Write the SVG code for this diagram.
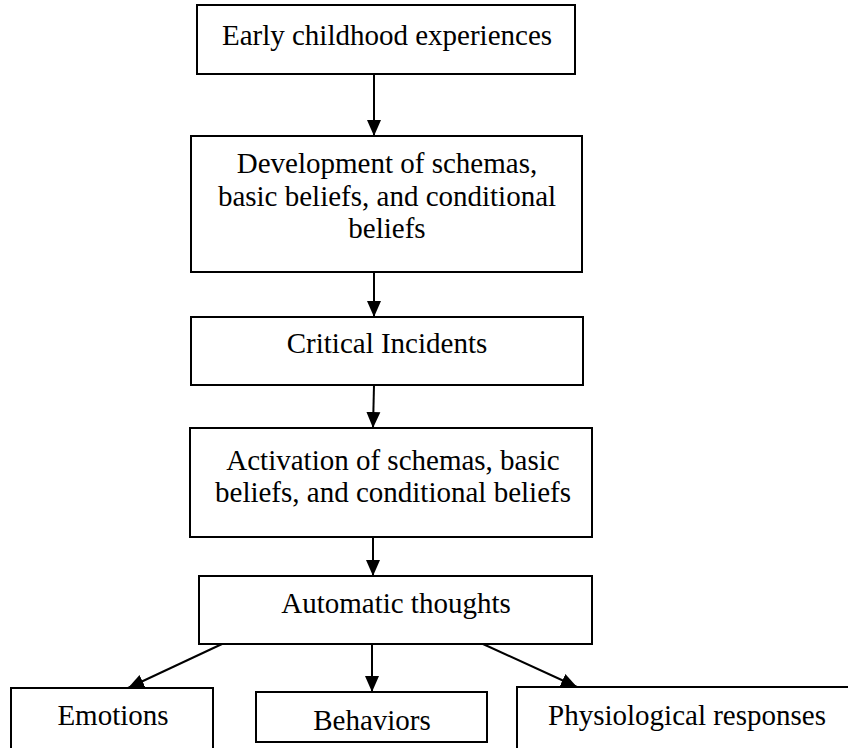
<svg xmlns="http://www.w3.org/2000/svg" width="848" height="748" viewBox="0 0 848 748">
  <style>
    .box { fill: #ffffff; stroke: #000000; stroke-width: 2; }
    .lbl { font-family: "Liberation Serif", "Times New Roman", serif; font-size: 29px; fill: #000000; text-anchor: middle; }
    .edge { stroke: #000000; stroke-width: 2; fill: none; marker-end: url(#head); }
  </style>
  <defs>
    <marker id="head" markerUnits="userSpaceOnUse" markerWidth="16" markerHeight="16" viewBox="0 0 16 16" refX="16" refY="8" orient="auto">
      <path d="M0,1 L16,8 L0,15 Z" fill="#000000"/>
    </marker>
  </defs>
  <rect width="848" height="748" fill="#ffffff"/>

  <g id="connectors">
    <line class="edge" x1="374" y1="74" x2="374" y2="136"/>
    <line class="edge" x1="374" y1="272" x2="374" y2="317"/>
    <line class="edge" x1="374" y1="385" x2="373" y2="428"/>
    <line class="edge" x1="373" y1="537" x2="373" y2="576"/>
    <line class="edge" x1="222" y1="644" x2="128" y2="688"/>
    <line class="edge" x1="372" y1="644" x2="372" y2="692"/>
    <line class="edge" x1="483" y1="644" x2="577" y2="687"/>
  </g>

  <g id="early-childhood">
    <rect class="box" x="197" y="5" width="378" height="69"/>
    <text class="lbl" x="387" y="45">Early childhood experiences</text>
  </g>

  <g id="development">
    <rect class="box" x="191" y="136" width="391" height="136"/>
    <text class="lbl" x="387" y="173">Development of schemas,</text>
    <text class="lbl" x="387" y="206">basic beliefs, and conditional</text>
    <text class="lbl" x="387" y="238">beliefs</text>
  </g>

  <g id="critical-incidents">
    <rect class="box" x="191" y="317" width="392" height="68"/>
    <text class="lbl" x="387" y="353">Critical Incidents</text>
  </g>

  <g id="activation">
    <rect class="box" x="190" y="428" width="402" height="109"/>
    <text class="lbl" x="393" y="470">Activation of schemas, basic</text>
    <text class="lbl" x="393" y="502">beliefs, and conditional beliefs</text>
  </g>

  <g id="automatic-thoughts">
    <rect class="box" x="199" y="576" width="393" height="68"/>
    <text class="lbl" x="396" y="613">Automatic thoughts</text>
  </g>

  <g id="emotions">
    <rect class="box" x="11" y="688" width="202" height="80"/>
    <text class="lbl" x="113" y="725">Emotions</text>
  </g>

  <g id="behaviors">
    <rect class="box" x="256" y="692" width="231" height="50"/>
    <text class="lbl" x="372" y="730">Behaviors</text>
  </g>

  <g id="physiological">
    <rect class="box" x="517" y="687" width="345" height="80"/>
    <text class="lbl" x="687" y="725">Physiological responses</text>
  </g>
</svg>
